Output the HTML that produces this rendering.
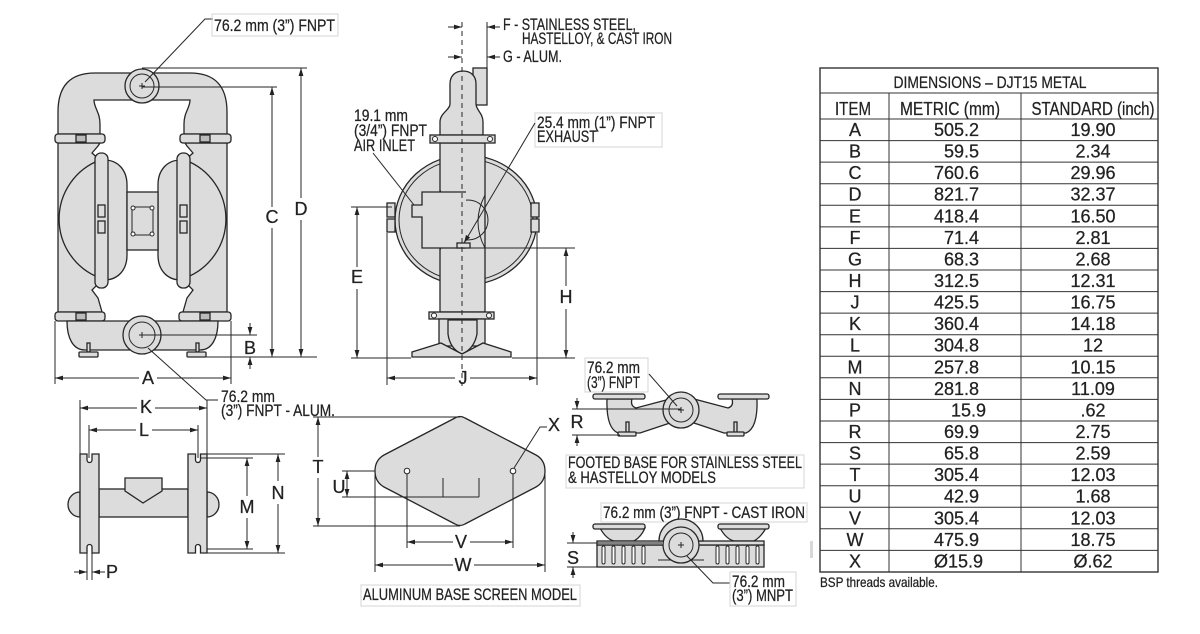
<!DOCTYPE html>
<html><head><meta charset="utf-8"><style>
html,body{margin:0;padding:0;background:#fff;}
svg{display:block;}
text{font-family:"Liberation Sans",sans-serif;fill:#222;stroke:#222;stroke-width:0.25;}
.o{fill:#dcdcdc;stroke:#262626;stroke-width:1.3;}
.l{fill:none;stroke:#262626;stroke-width:1;}
.w{fill:#fff;stroke:#262626;stroke-width:1;}
.fb{fill:none;stroke:#d4d4d4;stroke-width:1;}
.t{font-size:17px;}
.d{font-size:18px;text-anchor:middle;}
</style></head><body>
<svg width="1200" height="634" viewBox="0 0 1200 634" xmlns="http://www.w3.org/2000/svg">
<defs>
<marker id="a" viewBox="0 0 10 6" refX="10" refY="3" markerWidth="8" markerHeight="5" markerUnits="userSpaceOnUse" orient="auto"><path d="M0,0 L10,3 L0,6 z" fill="#222"/></marker>
</defs>
<rect width="1200" height="634" fill="#fff"/>

<!-- ================= FRONT VIEW ================= -->
<path class="o" d="M58 134 L58 112 C58 86 70 73 95 73 L190 73 C215 73 227 86 227 112 L227 134 L184 134 L184 124 C184 112 190 108 190 100 L94 100 C94 108 100 112 100 124 L100 134 Z"/>
<path class="o" d="M58 143 L58 312 L102 312 L98 298 L92 290 L100 282 L100 160 L92 153 L98 146 L100 143 Z"/>
<path class="o" d="M227 143 L227 312 L183 312 L187 298 L193 290 L185 282 L185 160 L193 153 L187 146 L185 143 Z"/>
<path class="o" d="M100 160 A63 63 0 0 0 100 278 Z"/>
<path class="o" d="M104 160 C118 160 127 170 127 185 L127 255 C127 270 118 280 104 280 Z"/>
<rect class="o" x="95" y="153" width="13" height="135" rx="6"/>
<path class="o" d="M185 160 A63 63 0 0 1 185 278 Z"/>
<path class="o" d="M181 160 C167 160 158 170 158 185 L158 255 C158 270 167 280 181 280 Z"/>
<rect class="o" x="177" y="153" width="13" height="135" rx="6"/>
<rect class="o" x="127" y="192" width="31" height="58"/>
<rect class="l" x="132" y="207" width="21" height="28"/>
<circle class="w" cx="133" cy="208" r="2"/><circle class="w" cx="152" cy="208" r="2"/>
<circle class="w" cx="133" cy="234" r="2"/><circle class="w" cx="152" cy="234" r="2"/>
<rect class="o" x="98" y="205" width="7" height="12"/><rect class="o" x="98" y="221" width="7" height="12"/>
<rect class="o" x="180" y="205" width="7" height="12"/><rect class="o" x="180" y="221" width="7" height="12"/>
<rect class="o" x="55" y="134" width="50" height="9" rx="3"/>
<rect class="o" x="180" y="134" width="51" height="9" rx="3"/>
<rect class="o" x="55" y="312" width="50" height="9" rx="3"/>
<rect class="o" x="179" y="312" width="52" height="9" rx="3"/>
<rect class="o" x="76" y="135" width="10" height="7" style="fill:#bbb"/><rect class="o" x="200" y="135" width="10" height="7" style="fill:#bbb"/>
<rect class="o" x="76" y="313" width="10" height="7" style="fill:#bbb"/><rect class="o" x="200" y="313" width="10" height="7" style="fill:#bbb"/>
<path class="o" d="M67 321 L218 321 C218 338 212 350 200 350 L85 350 C73 350 67 338 67 321 Z"/>
<rect class="o" x="87" y="343" width="3" height="9"/><rect class="o" x="79" y="352" width="19" height="5" rx="1"/>
<rect class="o" x="196" y="343" width="3" height="9"/><rect class="o" x="187" y="352" width="19" height="5" rx="1"/>
<circle class="o" cx="142" cy="86" r="17"/><circle class="l" cx="142" cy="86" r="12"/>
<path class="l" d="M139 86 H145 M142 83 V89"/>
<circle class="o" cx="142" cy="335" r="19"/><circle class="l" cx="142" cy="335" r="13"/>
<path class="l" d="M139 335 H145 M142 332 V338"/>
<path class="l" d="M145 82 L205 19 L213 19"/>
<rect class="fb" x="212" y="14" width="126" height="22"/>
<text class="t" x="214" y="31" textLength="121" lengthAdjust="spacingAndGlyphs">76.2 mm (3”) FNPT</text>
<path class="l" d="M148 348 L206 400 L218 400"/>
<text class="t" x="221" y="402" textLength="54" lengthAdjust="spacingAndGlyphs">76.2 mm</text>
<text class="t" x="221" y="416" textLength="114" lengthAdjust="spacingAndGlyphs">(3”) FNPT - ALUM.</text>
<path class="l" d="M142 68 H307 M142 87 H277 M142 335 H257 M205 357 H317"/>
<line class="l" x1="272" y1="207" x2="272" y2="87" marker-end="url(#a)"/>
<line class="l" x1="272" y1="228" x2="272" y2="357" marker-end="url(#a)"/>
<text class="d" x="272" y="223">C</text>
<line class="l" x1="301" y1="198" x2="301" y2="68" marker-end="url(#a)"/>
<line class="l" x1="301" y1="220" x2="301" y2="357" marker-end="url(#a)"/>
<text class="d" x="301" y="215">D</text>
<line class="l" x1="250" y1="323" x2="250" y2="335" marker-end="url(#a)"/>
<line class="l" x1="250" y1="369" x2="250" y2="357" marker-end="url(#a)"/>
<text class="d" x="250" y="354">B</text>
<path class="l" d="M55 321 V384 M231 321 V384"/>
<line class="l" x1="139" y1="378" x2="55" y2="378" marker-end="url(#a)"/>
<line class="l" x1="157" y1="378" x2="231" y2="378" marker-end="url(#a)"/>
<text class="d" x="148" y="384">A</text>

<!-- ================= SIDE VIEW ================= -->
<ellipse class="o" cx="466" cy="220" rx="71" ry="65"/>
<ellipse class="l" cx="466" cy="220" rx="67" ry="61"/>
<rect class="o" x="387" y="203" width="8" height="14"/><rect class="o" x="387" y="219" width="8" height="13"/>
<rect class="o" x="531" y="203" width="8" height="14"/><rect class="o" x="531" y="219" width="8" height="13"/>
<rect class="o" x="473" y="68" width="14" height="37"/>
<path class="o" d="M450 104 L450 84 C450 76 455 71 463 71 C471 71 476 76 476 84 L476 104 C476 110 483 113 483 122 L483 135 L440 135 L440 122 C440 113 450 110 450 104 Z"/>
<path class="o" d="M440 143 L485 143 L485 312 L440 312 Z"/>
<path class="l" d="M440 190 Q454 220 440 250 M485 195 Q471 222 485 248"/>
<circle class="l" cx="468" cy="220" r="20"/>
<path class="o" d="M466 192 L422 192 L422 205 L412 205 L412 217 L422 217 L422 248 L466 248"/>
<rect class="o" x="457" y="243" width="13" height="5"/>
<rect class="o" x="430" y="135" width="65" height="8"/>
<circle class="w" cx="435" cy="139" r="2.5"/><circle class="w" cx="490" cy="139" r="2.5"/>
<rect class="o" x="429" y="312" width="65" height="7"/>
<circle class="w" cx="434" cy="315.5" r="2.5"/><circle class="w" cx="489" cy="315.5" r="2.5"/>
<rect class="o" x="439" y="319" width="46" height="27"/>
<path class="o" d="M448 320 L448 334 Q450 349 462 354 Q474 349 477 334 L477 320 Z"/>
<path class="o" d="M441 343 L412 352 L412 357 L511 357 L511 352 L483 343 L462 354 Z"/>
<line x1="462" y1="22" x2="462" y2="386" stroke="#262626" stroke-width="1" stroke-dasharray="5,4"/>
<line class="l" x1="487" y1="22" x2="487" y2="68"/>
<line class="l" x1="448" y1="27" x2="462" y2="27" marker-end="url(#a)"/>
<line class="l" x1="500" y1="27" x2="487" y2="27" marker-end="url(#a)"/>
<line class="l" x1="448" y1="57" x2="462" y2="57" marker-end="url(#a)"/>
<line class="l" x1="500" y1="57" x2="487" y2="57" marker-end="url(#a)"/>
<text class="t" x="503" y="30" textLength="133" lengthAdjust="spacingAndGlyphs">F - STAINLESS STEEL,</text>
<text class="t" x="522" y="44" textLength="150" lengthAdjust="spacingAndGlyphs">HASTELLOY, &amp; CAST IRON</text>
<text class="t" x="503" y="62" textLength="59" lengthAdjust="spacingAndGlyphs">G - ALUM.</text>
<text class="t" x="354" y="121" textLength="54" lengthAdjust="spacingAndGlyphs">19.1 mm</text>
<text class="t" x="354" y="136" textLength="73" lengthAdjust="spacingAndGlyphs">(3/4”) FNPT</text>
<text class="t" x="354" y="151" textLength="61" lengthAdjust="spacingAndGlyphs">AIR INLET</text>
<path class="l" d="M373 153 L414 205"/>
<rect class="fb" x="535" y="113" width="127" height="34"/>
<text class="t" x="537" y="128" textLength="118" lengthAdjust="spacingAndGlyphs">25.4 mm (1”) FNPT</text>
<text class="t" x="537" y="142" textLength="60" lengthAdjust="spacingAndGlyphs">EXHAUST</text>
<line class="l" x1="535" y1="123" x2="464" y2="243" marker-end="url(#a)"/>
<path class="l" d="M351 207 H392 M351 358 H411 M466 248 H575 M512 358 H575 M387 233 V385 M537 233 V385"/>
<line class="l" x1="357" y1="267" x2="357" y2="207" marker-end="url(#a)"/>
<line class="l" x1="357" y1="289" x2="357" y2="358" marker-end="url(#a)"/>
<text class="d" x="357" y="283">E</text>
<line class="l" x1="566" y1="286" x2="566" y2="248" marker-end="url(#a)"/>
<line class="l" x1="566" y1="309" x2="566" y2="358" marker-end="url(#a)"/>
<text class="d" x="566" y="303">H</text>
<line class="l" x1="455" y1="378" x2="387" y2="378" marker-end="url(#a)"/>
<line class="l" x1="470" y1="378" x2="537" y2="378" marker-end="url(#a)"/>
<text class="d" x="463" y="384">J</text>

<!-- ================= K/L VIEW ================= -->
<path class="l" d="M80 400 V454 M207 400 V454 M89 425 V458 M198 425 V458"/>
<line class="l" x1="137" y1="408" x2="80" y2="408" marker-end="url(#a)"/>
<line class="l" x1="155" y1="408" x2="207" y2="408" marker-end="url(#a)"/>
<text class="d" x="146" y="413">K</text>
<line class="l" x1="136" y1="430" x2="89" y2="430" marker-end="url(#a)"/>
<line class="l" x1="152" y1="430" x2="198" y2="430" marker-end="url(#a)"/>
<text class="d" x="144" y="436">L</text>
<path class="o" d="M80 492 A12 12.5 0 0 0 80 517 Z"/>
<path class="o" d="M207 492 A12 12.5 0 0 1 207 517 Z"/>
<rect class="o" x="99" y="489" width="89" height="28"/>
<path class="o" d="M125 478 L162 478 L162 491 L143 503 L125 491 Z"/>
<path class="o" d="M80 454 L87 454 L87 460 A2.5 2.5 0 0 0 92 460 L92 454 L99 454 L99 553 L92 553 L92 547 A2.5 2.5 0 0 0 87 547 L87 553 L80 553 Z"/>
<path class="o" d="M188 454 L195.5 454 L195.5 460 A2.5 2.5 0 0 0 200.5 460 L200.5 454 L207 454 L207 553 L200.5 553 L200.5 547 A2.5 2.5 0 0 0 195.5 547 L195.5 553 L188 553 Z"/>
<path class="l" d="M200 458 H253 M207 549 H253 M207 454 H285 M207 553 H285"/>
<line class="l" x1="247" y1="496" x2="247" y2="458" marker-end="url(#a)"/>
<line class="l" x1="247" y1="518" x2="247" y2="549" marker-end="url(#a)"/>
<text class="d" x="247" y="513">M</text>
<line class="l" x1="278" y1="481" x2="278" y2="454" marker-end="url(#a)"/>
<line class="l" x1="278" y1="504" x2="278" y2="553" marker-end="url(#a)"/>
<text class="d" x="278" y="499">N</text>
<path class="l" d="M87 546 V580 M92 546 V580"/>
<line class="l" x1="74" y1="572" x2="87" y2="572" marker-end="url(#a)"/>
<line class="l" x1="105" y1="572" x2="92" y2="572" marker-end="url(#a)"/>
<text class="d" x="112" y="578">P</text>

<!-- ================= ALUMINUM BASE ================= -->
<path class="o" d="M455 418 Q460 415 465 418 L536 455 Q545 460 545 471 Q545 482 536 487 L465 524 Q460 527 455 524 L384 487 Q375 482 375 471 Q375 460 384 455 Z"/>
<circle class="w" cx="407" cy="471" r="2.8"/><circle class="w" cx="513" cy="471" r="2.8"/>
<path class="l" d="M443 478 V497 M342 497 H479 M479 478 V497"/>
<path class="l" d="M313 417 H460 M313 526 H460 M342 471 H375"/>
<line class="l" x1="318" y1="457" x2="318" y2="417" marker-end="url(#a)"/>
<line class="l" x1="318" y1="478" x2="318" y2="526" marker-end="url(#a)"/>
<text class="d" x="318" y="473">T</text>
<line class="l" x1="347" y1="484" x2="347" y2="471" marker-end="url(#a)"/>
<line class="l" x1="347" y1="484" x2="347" y2="497" marker-end="url(#a)"/>
<text class="d" x="339" y="493">U</text>
<path class="l" d="M407 474 V548 M513 474 V548 M375 475 V572 M545 475 V572"/>
<line class="l" x1="453" y1="542" x2="407" y2="542" marker-end="url(#a)"/>
<line class="l" x1="470" y1="542" x2="513" y2="542" marker-end="url(#a)"/>
<text class="d" x="461" y="548">V</text>
<line class="l" x1="453" y1="565" x2="375" y2="565" marker-end="url(#a)"/>
<line class="l" x1="474" y1="565" x2="545" y2="565" marker-end="url(#a)"/>
<text class="d" x="463" y="571">W</text>
<path class="l" d="M514 468 L540 427 L547 427"/>
<text class="d" x="554" y="431">X</text>
<rect class="fb" x="361" y="585" width="219" height="21"/>
<text class="t" x="363" y="600" textLength="214" lengthAdjust="spacingAndGlyphs">ALUMINUM BASE SCREEN MODEL</text>

<!-- ================= FOOTED BASE ================= -->
<rect class="fb" x="585" y="358" width="63" height="34"/>
<text class="t" x="587" y="373" textLength="53" lengthAdjust="spacingAndGlyphs">76.2 mm</text>
<text class="t" x="587" y="388" textLength="53" lengthAdjust="spacingAndGlyphs">(3”) FNPT</text>
<path class="o" d="M607 399 Q606 428 618 433 L640 433 L670 423 L670 399 L636 408 Q630 406 632 399 Z"/>
<path class="o" d="M757 399 Q758 428 746 433 L724 433 L694 423 L694 399 L728 408 Q734 406 732 399 Z"/>
<rect class="o" x="593" y="394" width="52" height="5" rx="2"/>
<rect class="o" x="718" y="394" width="51" height="5" rx="2"/>
<rect class="o" x="626" y="422" width="3" height="11"/><rect class="o" x="618" y="432" width="18" height="4" rx="1"/>
<rect class="o" x="734" y="422" width="3" height="11"/><rect class="o" x="727" y="432" width="17" height="4" rx="1"/>
<circle class="o" cx="681" cy="410" r="18"/><circle class="l" cx="681" cy="410" r="12"/>
<path class="l" d="M678 410 H684 M681 407 V413"/>
<path class="l" d="M649 374 L677 406"/>
<path class="l" d="M572 409 H681 M572 435 H620"/>
<line class="l" x1="577" y1="398" x2="577" y2="409" marker-end="url(#a)"/>
<line class="l" x1="577" y1="446" x2="577" y2="435" marker-end="url(#a)"/>
<text class="d" x="577" y="428">R</text>
<rect class="fb" x="566" y="455" width="238" height="33"/>
<text class="t" x="568" y="468" textLength="234" lengthAdjust="spacingAndGlyphs">FOOTED BASE FOR STAINLESS STEEL</text>
<text class="t" x="568" y="483" textLength="148" lengthAdjust="spacingAndGlyphs">&amp; HASTELLOY MODELS</text>

<!-- ================= CAST IRON ================= -->
<rect class="fb" x="601" y="503" width="206" height="19"/>
<text class="t" x="603" y="518" textLength="202" lengthAdjust="spacingAndGlyphs">76.2 mm (3”) FNPT - CAST IRON</text>
<path class="o" d="M600 528 Q606 539 614 541 L634 541 Q641 537 645 528 Z"/>
<path class="o" d="M720 528 Q726 539 734 541 L754 541 Q761 537 766 528 Z"/>
<rect class="o" x="593" y="524" width="52" height="5" rx="2"/>
<rect class="o" x="718" y="524" width="51" height="5" rx="2"/>
<rect class="o" x="597" y="545" width="167" height="22"/>
<rect class="o" x="597" y="541" width="167" height="4"/>
<g class="w">
<rect x="602" y="546" width="3" height="18" rx="1.5"/><rect x="612" y="546" width="3" height="18" rx="1.5"/>
<rect x="622" y="546" width="3" height="18" rx="1.5"/><rect x="632" y="546" width="3" height="18" rx="1.5"/>
<rect x="642" y="546" width="3" height="18" rx="1.5"/>
<rect x="716" y="546" width="3" height="18" rx="1.5"/><rect x="726" y="546" width="3" height="18" rx="1.5"/>
<rect x="736" y="546" width="3" height="18" rx="1.5"/><rect x="746" y="546" width="3" height="18" rx="1.5"/>
<rect x="756" y="546" width="3" height="18" rx="1.5"/>
</g>
<path class="l" d="M658 560 H704"/>
<path class="o" d="M659 541 A22 22 0 0 1 703 541 Z"/>
<circle class="o" cx="681" cy="545" r="18"/><circle class="l" cx="681" cy="545" r="12"/>
<path class="l" d="M678 545 H684 M681 542 V548"/>
<path class="l" d="M567 543 H662 M567 567 H597"/>
<line class="l" x1="573" y1="532" x2="573" y2="543" marker-end="url(#a)"/>
<line class="l" x1="573" y1="578" x2="573" y2="567" marker-end="url(#a)"/>
<text class="d" x="573" y="564">S</text>
<path class="l" d="M687 556 L713 583 L730 583"/>
<rect class="fb" x="730" y="572" width="66" height="34"/>
<text class="t" x="732" y="587" textLength="53" lengthAdjust="spacingAndGlyphs">76.2 mm</text>
<text class="t" x="732" y="601" textLength="61" lengthAdjust="spacingAndGlyphs">(3”) MNPT</text>
<rect x="810" y="541" width="3" height="17" fill="#d8d8d8"/>

<!-- ================= TABLE ================= -->
<g stroke="#333" stroke-width="1" fill="none">
<rect x="820" y="68" width="338" height="504" stroke-width="1.4"/>
<path d="M820 93 H1158 M820 119 H1158 M889 93 V572 M1021 93 V572"/>
<path d="M820 140.6 H1158 M820 162.1 H1158 M820 183.7 H1158 M820 205.3 H1158 M820 226.9 H1158 M820 248.4 H1158 M820 270 H1158 M820 291.6 H1158 M820 313.1 H1158 M820 334.7 H1158 M820 356.3 H1158 M820 377.8 H1158 M820 399.4 H1158 M820 421 H1158 M820 442.6 H1158 M820 464.1 H1158 M820 485.7 H1158 M820 507.3 H1158 M820 528.8 H1158 M820 550.4 H1158"/>
</g>
<text x="990" y="88" font-size="17" text-anchor="middle" textLength="193" lengthAdjust="spacingAndGlyphs">DIMENSIONS –  DJT15 METAL</text>
<text x="853" y="115" font-size="18" text-anchor="middle" textLength="36" lengthAdjust="spacingAndGlyphs">ITEM</text>
<text x="950" y="115" font-size="18" text-anchor="middle" textLength="100" lengthAdjust="spacingAndGlyphs">METRIC (mm)</text>
<text x="1093" y="115" font-size="18" text-anchor="middle" textLength="123" lengthAdjust="spacingAndGlyphs">STANDARD (inch)</text>
<g font-size="18" text-anchor="middle">
<text x="855" y="136">A</text><text x="855" y="157.6">B</text><text x="855" y="179.1">C</text><text x="855" y="200.7">D</text><text x="855" y="222.3">E</text><text x="855" y="243.9">F</text><text x="855" y="265.4">G</text><text x="855" y="287">H</text><text x="855" y="308.6">J</text><text x="855" y="330.1">K</text><text x="855" y="351.7">L</text><text x="855" y="373.3">M</text><text x="855" y="394.8">N</text><text x="855" y="416.4">P</text><text x="855" y="438">R</text><text x="855" y="459.6">S</text><text x="855" y="481.1">T</text><text x="855" y="502.7">U</text><text x="855" y="524.3">V</text><text x="855" y="545.8">W</text><text x="855" y="567.4">X</text>
</g>
<g font-size="18" text-anchor="end">
<text x="979" y="136">505.2</text><text x="979" y="157.6">59.5</text><text x="979" y="179.1">760.6</text><text x="979" y="200.7">821.7</text><text x="979" y="222.3">418.4</text><text x="979" y="243.9">71.4</text><text x="979" y="265.4">68.3</text><text x="979" y="287">312.5</text><text x="979" y="308.6">425.5</text><text x="979" y="330.1">360.4</text><text x="979" y="351.7">304.8</text><text x="979" y="373.3">257.8</text><text x="979" y="394.8">281.8</text><text x="986" y="416.4">15.9</text><text x="979" y="438">69.9</text><text x="979" y="459.6">65.8</text><text x="979" y="481.1">305.4</text><text x="979" y="502.7">42.9</text><text x="979" y="524.3">305.4</text><text x="979" y="545.8">475.9</text><text x="983" y="567.4">Ø15.9</text>
</g>
<g font-size="18" text-anchor="middle">
<text x="1093" y="136">19.90</text><text x="1093" y="157.6">2.34</text><text x="1093" y="179.1">29.96</text><text x="1093" y="200.7">32.37</text><text x="1093" y="222.3">16.50</text><text x="1093" y="243.9">2.81</text><text x="1093" y="265.4">2.68</text><text x="1093" y="287">12.31</text><text x="1093" y="308.6">16.75</text><text x="1093" y="330.1">14.18</text><text x="1093" y="351.7">12</text><text x="1093" y="373.3">10.15</text><text x="1093" y="394.8">11.09</text><text x="1093" y="416.4">.62</text><text x="1093" y="438">2.75</text><text x="1093" y="459.6">2.59</text><text x="1093" y="481.1">12.03</text><text x="1093" y="502.7">1.68</text><text x="1093" y="524.3">12.03</text><text x="1093" y="545.8">18.75</text><text x="1093" y="567.4">Ø.62</text>
</g>
<text x="820" y="587" font-size="14" textLength="118" lengthAdjust="spacingAndGlyphs">BSP threads available.</text>
</svg>
</body></html>
